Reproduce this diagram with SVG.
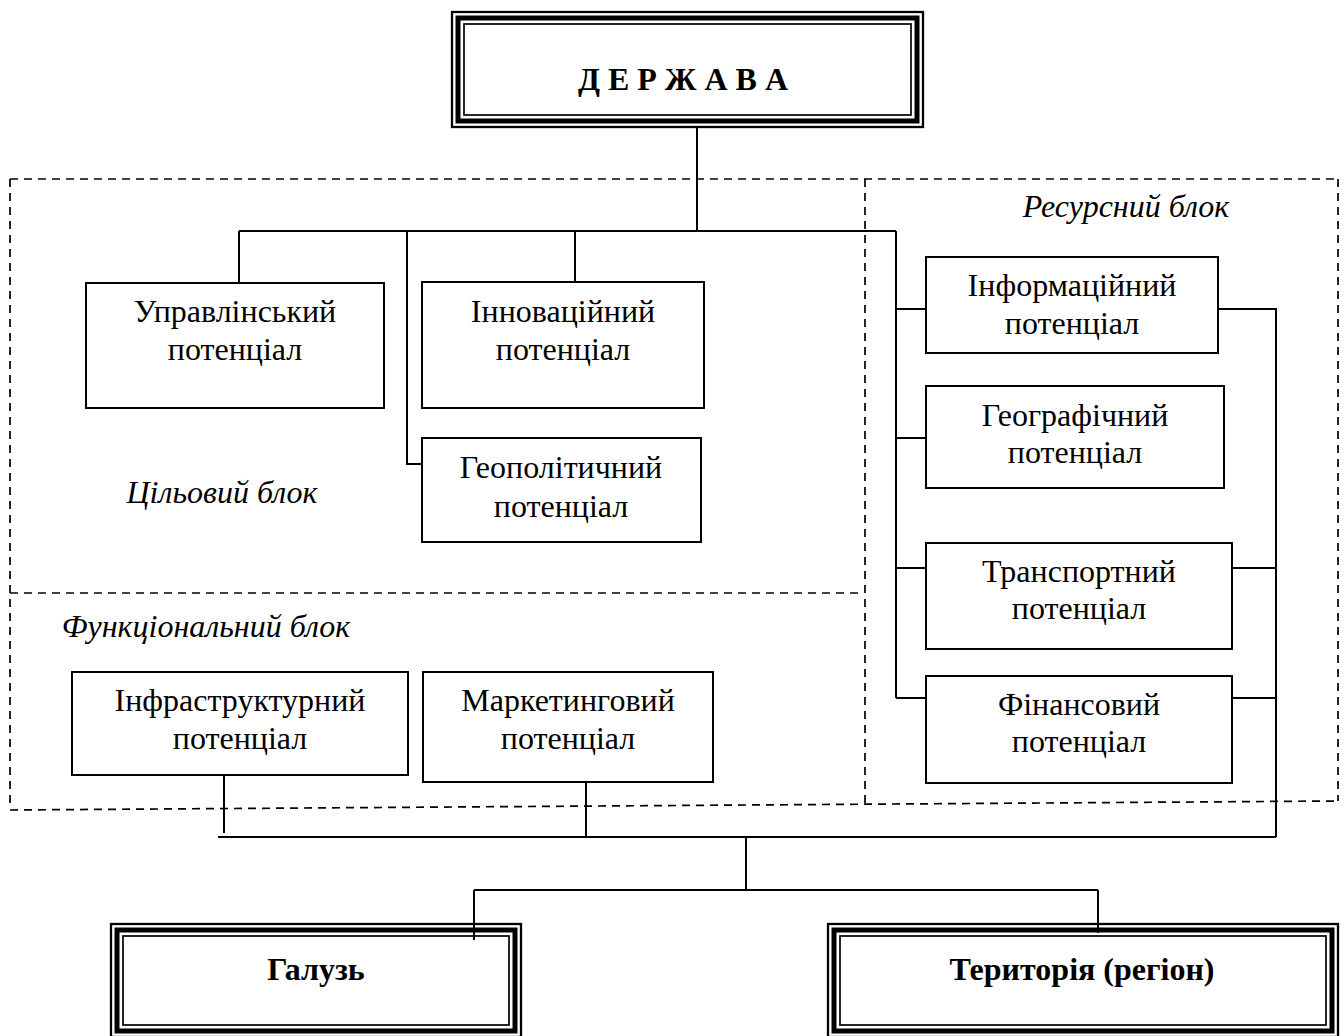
<svg xmlns="http://www.w3.org/2000/svg" width="1344" height="1036" viewBox="0 0 1344 1036">
<style>
.bg{fill:#ffffff}
.box{fill:#ffffff;stroke:#000;stroke-width:2}
.t1{stroke:#000;stroke-width:2.3;fill:none}
.t2{stroke:#000;stroke-width:5;fill:none}
.t3{stroke:#000;stroke-width:1.7;fill:none}
.dash{stroke:#000;stroke-width:1.7;fill:none;stroke-dasharray:8 6}
.ln{stroke:#000;stroke-width:2;fill:none}
text{font-family:"Liberation Serif","Times New Roman",serif;font-size:32px;fill:#000;text-anchor:middle}
.b{font-weight:bold}
.i{font-style:italic}
</style>
<rect class="bg" x="0" y="0" width="1344" height="1036"/>
<g id="blocks">
<path class="dash" d="M10 179 H1338"/>
<path class="dash" d="M10 179 V803"/>
<path class="dash" d="M1338 179 V801"/>
<path class="dash" d="M865 179 V803"/>
<path class="dash" d="M10 593 H860"/>
<path class="dash" d="M10 810 L1338 801"/>
<text class="i" x="1126" y="217">Ресурсний блок</text>
<text class="i" x="222" y="503">Цільовий блок</text>
<text class="i" x="206" y="637">Функціональний блок</text>
</g>
<g id="connectors">
<path class="ln" d="M697 128 V231"/>
<path class="ln" d="M239 231 H896"/>
<path class="ln" d="M239 231 V283"/>
<path class="ln" d="M407 231 V464 H422"/>
<path class="ln" d="M575 231 V282"/>
<path class="ln" d="M896 231 V698"/>
<path class="ln" d="M896 309 H926"/>
<path class="ln" d="M896 438 H926"/>
<path class="ln" d="M896 568 H926"/>
<path class="ln" d="M896 698 H926"/>
<path class="ln" d="M1217 309 H1276 V837"/>
<path class="ln" d="M1232 568 H1277"/>
<path class="ln" d="M1232 698 H1277"/>
<path class="ln" d="M224 775 V833"/>
<path class="ln" d="M586 782 V837"/>
<path class="ln" d="M218 837 H1276"/>
<path class="ln" d="M746 837 V890"/>
<path class="ln" d="M474 890 H1098"/>
<path class="ln" d="M474 890 V940"/>
<path class="ln" d="M1098 890 V933"/>
</g>
<g id="derzhava">
<rect x="452" y="12" width="471" height="115" fill="#fff" class="t1"/>
<rect x="458" y="18" width="459" height="103" class="t2"/>
<rect x="464" y="24" width="447" height="91" class="t3"/>
<text class="b" x="683" y="90" xml:space="preserve">Д Е Р Ж А В А</text>
</g>
<g id="upravlinskyi">
<rect class="box" x="86" y="283" width="298" height="125"/>
<text x="235" y="322">Управлінський</text>
<text x="235" y="360">потенціал</text>
</g>
<g id="innovatsiinyi">
<rect class="box" x="422" y="282" width="282" height="126"/>
<text x="563" y="322">Інноваційний</text>
<text x="563" y="360">потенціал</text>
</g>
<g id="heopolitychnyi">
<rect class="box" x="422" y="438" width="279" height="104"/>
<text x="561" y="478">Геополітичний</text>
<text x="561" y="517">потенціал</text>
</g>
<g id="informatsiinyi">
<rect class="box" x="926" y="257" width="292" height="96"/>
<text x="1072" y="296">Інформаційний</text>
<text x="1072" y="334">потенціал</text>
</g>
<g id="heohrafichnyi">
<rect class="box" x="926" y="386" width="298" height="102"/>
<text x="1075" y="426">Географічний</text>
<text x="1075" y="463">потенціал</text>
</g>
<g id="transportnyi">
<rect class="box" x="926" y="543" width="306" height="106"/>
<text x="1079" y="582">Транспортний</text>
<text x="1079" y="619">потенціал</text>
</g>
<g id="finansovyi">
<rect class="box" x="926" y="676" width="306" height="107"/>
<text x="1079" y="715">Фінансовий</text>
<text x="1079" y="752">потенціал</text>
</g>
<g id="infrastrukturnyi">
<rect class="box" x="72" y="672" width="336" height="103"/>
<text x="240" y="711">Інфраструктурний</text>
<text x="240" y="749">потенціал</text>
</g>
<g id="marketynhovyi">
<rect class="box" x="423" y="672" width="290" height="110"/>
<text x="568" y="711">Маркетинговий</text>
<text x="568" y="749">потенціал</text>
</g>
<g id="haluz">
<rect x="111" y="924" width="410" height="113" fill="#fff" class="t1"/>
<rect x="117" y="930" width="398" height="101" class="t2"/>
<rect x="123" y="936" width="386" height="89" class="t3"/>
<path class="ln" d="M474 923 V940"/>
<text class="b" x="316" y="980">Галузь</text>
</g>
<g id="terytoriia">
<rect x="828" y="924" width="510" height="113" fill="#fff" class="t1"/>
<rect x="834" y="930" width="498" height="101" class="t2"/>
<rect x="840" y="936" width="486" height="89" class="t3"/>
<path class="ln" d="M1098 923 V933"/>
<text class="b" x="1082" y="980">Територія (регіон)</text>
</g>
</svg>
